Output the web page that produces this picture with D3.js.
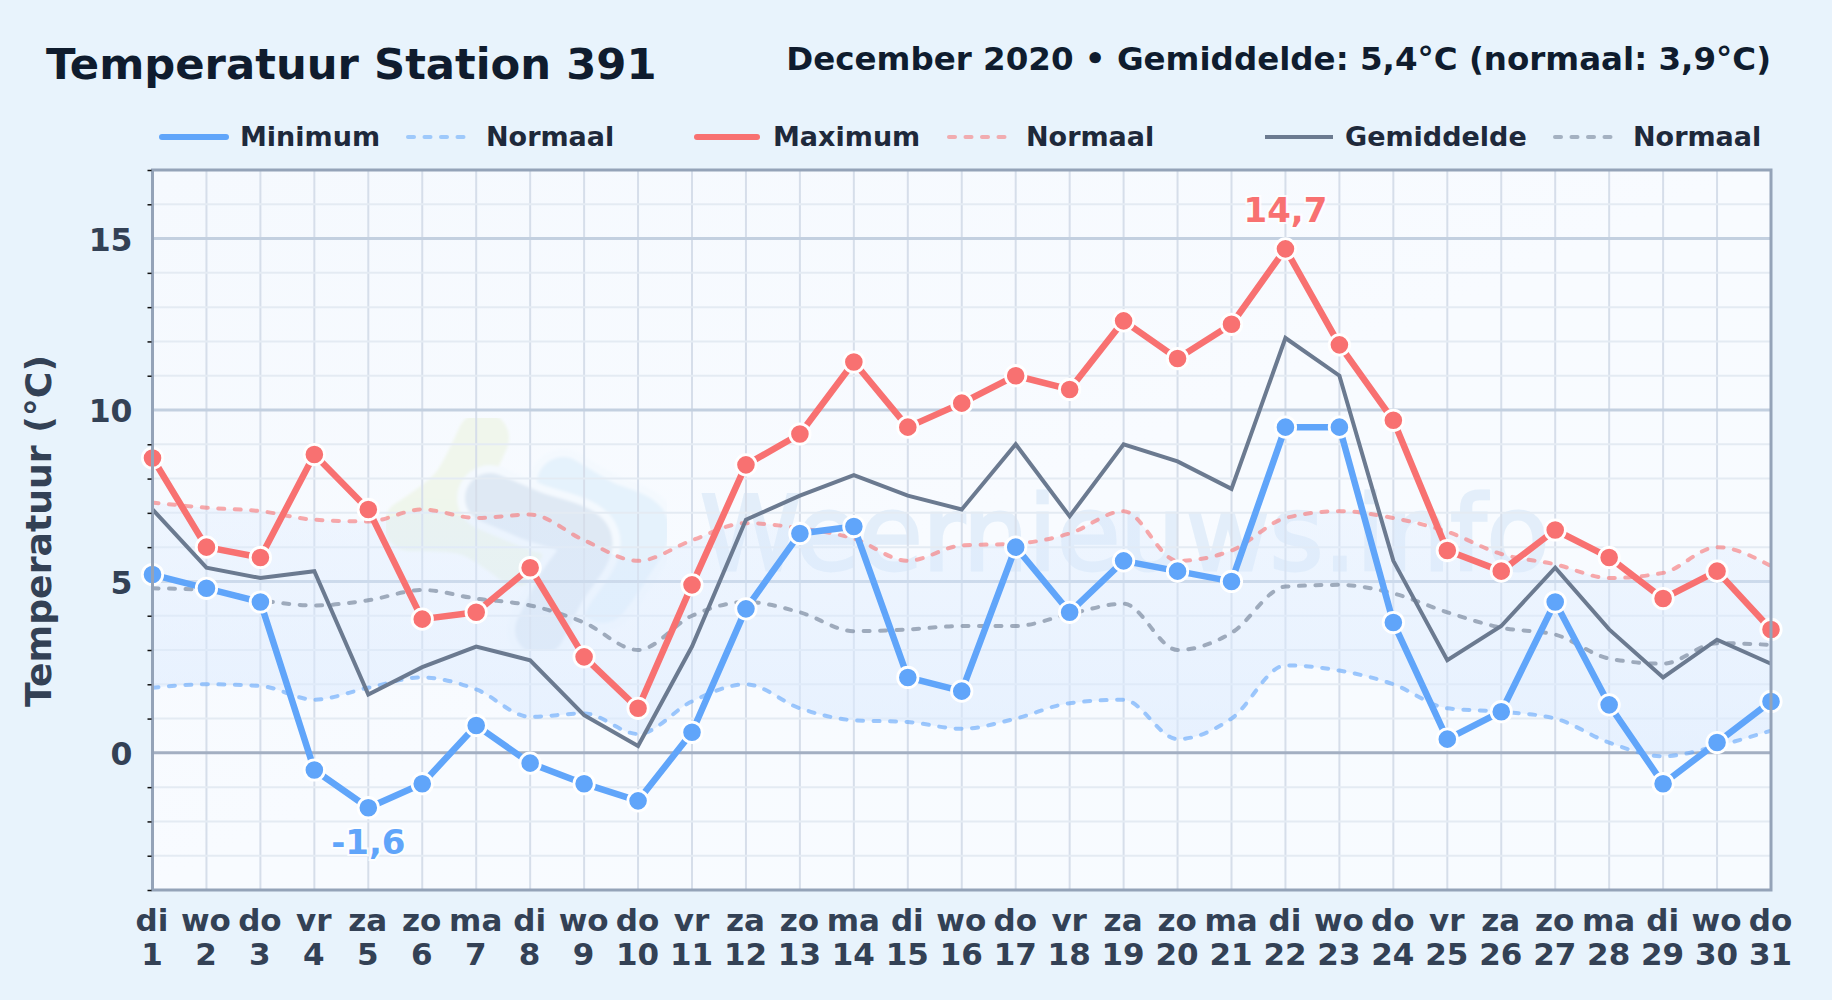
<!DOCTYPE html>
<html>
<head>
<meta charset="utf-8">
<title>Temperatuur Station 391</title>
<script src="https://cdn.jsdelivr.net/npm/d3@7"></script>
<style>
  html, body { margin: 0; padding: 0; background: #e8f3fc; }
  svg { display: block; font-family: "DejaVu Sans", sans-serif; font-weight: bold; }
</style>
</head>
<body>
<svg id="chart" width="1832" height="1000"></svg>
<script>
const weekdays = ["di","wo","do","vr","za","zo","ma","di","wo","do","vr","za","zo","ma","di","wo","do","vr","za","zo","ma","di","wo","do","vr","za","zo","ma","di","wo","do"];
const days = d3.range(1, 32);

const minTemp = [5.2,4.8,4.4,-0.5,-1.6,-0.9,0.8,-0.3,-0.9,-1.4,0.6,4.2,6.4,6.6,2.2,1.8,6.0,4.1,5.6,5.3,5.0,9.5,9.5,3.8,0.4,1.2,4.4,1.4,-0.9,0.3,1.5];
const maxTemp = [8.6,6.0,5.7,8.7,7.1,3.9,4.1,5.4,2.8,1.3,4.9,8.4,9.3,11.4,9.5,10.2,11.0,10.6,12.6,11.5,12.5,14.7,11.9,9.7,5.9,5.3,6.5,5.7,4.5,5.3,3.6];
const meanTemp = [7.1,5.4,5.1,5.3,1.7,2.5,3.1,2.7,1.1,0.2,3.1,6.8,7.5,8.1,7.5,7.1,9.0,6.9,9.0,8.5,7.7,12.1,11.0,5.6,2.7,3.7,5.4,3.6,2.2,3.3,2.6];
const normMin = [1.9,2.0,1.95,1.55,1.9,2.2,1.85,1.05,1.15,0.55,1.5,2.0,1.3,0.95,0.9,0.7,1.0,1.45,1.55,0.4,1.0,2.55,2.4,2.0,1.3,1.2,1.0,0.3,-0.1,0.2,0.65];
const normMax = [7.3,7.15,7.05,6.8,6.75,7.1,6.85,6.95,6.2,5.6,6.2,6.7,6.55,6.25,5.6,6.05,6.1,6.4,7.05,5.6,5.9,6.85,7.05,6.85,6.45,5.8,5.5,5.1,5.25,6.0,5.45];
const normMean = [4.8,4.75,4.45,4.3,4.45,4.75,4.5,4.3,3.8,3.0,4.0,4.4,4.1,3.55,3.6,3.7,3.7,4.05,4.35,3.0,3.5,4.85,4.9,4.65,4.1,3.65,3.45,2.75,2.6,3.2,3.15];

const legendItems = [
  { label: "Minimum", color: "#60a5fa", x1: 162, x2: 226, tx: 240, w: 6, normal: false },
  { label: "Normaal", color: "#60a5fa", x1: 408, x2: 464, tx: 486, w: 4, normal: true },
  { label: "Maximum", color: "#f87171", x1: 697, x2: 757, tx: 773, w: 6, normal: false },
  { label: "Normaal", color: "#f87171", x1: 949, x2: 1005, tx: 1026, w: 4, normal: true },
  { label: "Gemiddelde", color: "#6b7a90", x1: 1265, x2: 1333, tx: 1345, w: 4, normal: false },
  { label: "Normaal", color: "#6b7a90", x1: 1555, x2: 1618, tx: 1633, w: 4, normal: true }
];

const plotLeft = 152.5, plotRight = 1771, plotTop = 170, plotBottom = 890;
const x = d3.scaleLinear().domain([1, 31]).range([plotLeft, plotRight]);
const y = d3.scaleLinear().domain([-4, 17]).range([plotBottom, plotTop]);

const svg = d3.select("#chart");
const defs = svg.append("defs");

const plotGrad = defs.append("linearGradient").attr("id", "plot-bg").attr("x1", 0).attr("y1", 0).attr("x2", 1).attr("y2", 1);
plotGrad.append("stop").attr("offset", "0%").attr("stop-color", "#f5f9fe");
plotGrad.append("stop").attr("offset", "50%").attr("stop-color", "#f8fbff");
plotGrad.append("stop").attr("offset", "100%").attr("stop-color", "#f7fbff");

const bandGrad = defs.append("linearGradient").attr("id", "band-fill")
  .attr("gradientUnits", "userSpaceOnUse").attr("x1", 0).attr("x2", 0).attr("y1", y(7.3)).attr("y2", y(0));
bandGrad.append("stop").attr("offset", "0%").attr("stop-color", "#dbeafe").attr("stop-opacity", 0.3);
bandGrad.append("stop").attr("offset", "100%").attr("stop-color", "#dbeafe").attr("stop-opacity", 0.6);

defs.append("clipPath").attr("id", "plot-clip")
  .append("rect").attr("x", plotLeft).attr("y", plotTop).attr("width", plotRight - plotLeft).attr("height", plotBottom - plotTop);

defs.append("filter").attr("id", "soft").append("feGaussianBlur").attr("stdDeviation", 1.5);

svg.append("rect").attr("width", 1832).attr("height", 1000).attr("fill", "#e8f3fc");

svg.append("text").attr("x", 46).attr("y", 79).attr("font-size", 43.3).attr("fill", "#0f1c2e").text("Temperatuur Station 391");
svg.append("text").attr("x", 1771).attr("y", 70).attr("text-anchor", "end").attr("font-size", 32.5).attr("fill", "#0f1c2e")
  .text("December 2020 • Gemiddelde: 5,4°C (normaal: 3,9°C)");

// legend
const legend = svg.append("g");
legendItems.forEach((d) => {
  legend.append("line")
    .attr("x1", d.x1).attr("x2", d.x2).attr("y1", 137).attr("y2", 137)
    .attr("stroke", d.color).attr("stroke-width", d.w)
    .attr("stroke-opacity", d.normal ? 0.55 : 1)
    .attr("stroke-linecap", d.normal || d.w > 4 ? "round" : "butt")
    .attr("stroke-dasharray", d.normal ? "6 10.5" : null);
  legend.append("text").attr("x", d.tx).attr("y", 146).attr("font-size", 27).attr("fill", "#1e293b").text(d.label);
});

svg.append("rect").attr("x", plotLeft).attr("y", plotTop).attr("width", plotRight - plotLeft).attr("height", plotBottom - plotTop).attr("fill", "url(#plot-bg)");

// watermark
const plot = svg.append("g").attr("clip-path", "url(#plot-clip)");
const blob = d3.line().curve(d3.curveCatmullRom);
const wm = plot.append("g").attr("filter", "url(#soft)");
[
  { pts: [[483,438],[455,490],[410,525]], w: 52, c: "#f0f6ec" },
  { pts: [[410,525],[470,530],[517,560]], w: 52, c: "#eff6ec" },
  { pts: [[563,483],[600,505],[643,527],[625,565],[603,597]], w: 52, c: "#e5f2fc", halo: "#f4f9fe" },
  { pts: [[490,498],[530,515],[587,540],[560,590],[540,630]], w: 50, c: "#dfe9f4", halo: "#f4f9fe" }
].forEach((b) => {
  if (b.halo) {
    wm.append("path").attr("d", blob(b.pts)).attr("fill", "none").attr("stroke", b.halo)
      .attr("stroke-width", b.w + 16).attr("stroke-linecap", "round").attr("stroke-linejoin", "round");
  }
  wm.append("path").attr("d", blob(b.pts)).attr("fill", "none").attr("stroke", b.c)
    .attr("stroke-width", b.w).attr("stroke-linecap", "round").attr("stroke-linejoin", "round");
});
plot.append("text").attr("x", 700).attr("y", 570).attr("font-size", 103).attr("font-weight", "normal")
  .attr("fill", "#d3e5f6").attr("stroke", "#d3e5f6").attr("stroke-width", 3).attr("opacity", 0.55).text("Weernieuws.info");

// grid
const grid = plot.append("g");
days.forEach((d) => {
  grid.append("line").attr("x1", x(d)).attr("x2", x(d)).attr("y1", plotTop).attr("y2", plotBottom)
    .attr("stroke", "#d6deea").attr("stroke-width", 2);
});
d3.range(-4, 18).forEach((v) => {
  const isMajor = v % 5 === 0;
  grid.append("line").attr("x1", plotLeft).attr("x2", plotRight).attr("y1", y(v)).attr("y2", y(v))
    .attr("stroke", v === 0 ? "#a3afc2" : isMajor ? "#c3d0e0" : "#e4ebf3")
    .attr("stroke-width", isMajor ? 3 : 2);
});

// normal band
const band = d3.area().x((d, i) => x(days[i])).y0((d, i) => y(normMin[i])).y1((d) => y(d)).curve(d3.curveMonotoneX);
plot.append("path").attr("d", band(normMax)).attr("fill", "url(#band-fill)");

const smooth = d3.line().x((d, i) => x(days[i])).y((d) => y(d)).curve(d3.curveMonotoneX);
const straight = d3.line().x((d, i) => x(days[i])).y((d) => y(d));

[[normMin, "#60a5fa"], [normMax, "#f87171"], [normMean, "#6b7a90"]].forEach(([vals, c]) => {
  plot.append("path").attr("d", smooth(vals)).attr("fill", "none").attr("stroke", c)
    .attr("stroke-width", 4).attr("stroke-opacity", 0.6).attr("stroke-linecap", "round").attr("stroke-dasharray", "6 10.5");
});

svg.append("path").attr("d", straight(meanTemp)).attr("fill", "none").attr("stroke", "#6b7a90").attr("stroke-width", 4);

[[maxTemp, "#f87171"], [minTemp, "#60a5fa"]].forEach(([vals, c]) => {
  svg.append("path").attr("d", straight(vals)).attr("fill", "none").attr("stroke", c).attr("stroke-width", 6.5).attr("stroke-linejoin", "round");
  svg.append("g").selectAll("circle").data(vals).join("circle")
    .attr("cx", (d, i) => x(days[i])).attr("cy", (d) => y(d)).attr("r", 10.2)
    .attr("fill", c).attr("stroke", "#fff").attr("stroke-width", 2.8);
});

// frame
svg.append("rect").attr("x", plotLeft).attr("y", plotTop).attr("width", plotRight - plotLeft).attr("height", plotBottom - plotTop)
  .attr("fill", "none").attr("stroke", "#94a3b8").attr("stroke-width", 3);

// axes
const yAxis = d3.axisLeft(y).tickValues([0, 5, 10, 15]).tickSize(0).tickPadding(20);
const yG = svg.append("g").attr("transform", `translate(${plotLeft},1.5)`).call(yAxis);
yG.select(".domain").remove();
yG.selectAll("text").attr("font-size", 31.5).attr("font-family", "DejaVu Sans").attr("font-weight", "bold").attr("fill", "#334155");

const yMinor = d3.axisLeft(y).tickValues(d3.range(-4, 18).filter((v) => v % 5 !== 0)).tickSize(4).tickFormat("");
const yMinorG = svg.append("g").attr("transform", `translate(${plotLeft - 1},0)`).call(yMinor);
yMinorG.select(".domain").remove();
yMinorG.selectAll("line").attr("stroke", "#111").attr("stroke-width", 1.5);

const xAxis = d3.axisBottom(x).tickValues(days).tickSize(0).tickFormat("");
const xG = svg.append("g").attr("transform", `translate(-1,${plotBottom})`).call(xAxis);
xG.select(".domain").remove();
xG.selectAll(".tick").each(function (d, i) {
  const t = d3.select(this).select("text").attr("y", 0).attr("dy", null)
    .attr("font-size", 31).attr("font-family", "DejaVu Sans").attr("font-weight", "bold").attr("fill", "#334155");
  t.append("tspan").attr("x", 0).attr("y", 40.5).text(weekdays[i]);
  t.append("tspan").attr("x", 0).attr("y", 75).text(d);
});

svg.append("text").attr("transform", "translate(51,531) rotate(-90)").attr("text-anchor", "middle")
  .attr("font-size", 36.2).attr("fill", "#334155").text("Temperatuur (°C)");

// extremes
function note(value, day, color, dy) {
  svg.append("text").attr("x", x(day)).attr("y", y(value) + dy).attr("text-anchor", "middle")
    .attr("font-size", 34).attr("fill", color).attr("stroke", "#fff").attr("stroke-width", 4)
    .attr("stroke-opacity", 0.8).attr("paint-order", "stroke").text(String(value).replace(".", ","));
}
const maxIdx = d3.maxIndex(maxTemp), minIdx = d3.minIndex(minTemp);
note(maxTemp[maxIdx], days[maxIdx], "#f87171", -27);
note(minTemp[minIdx], days[minIdx], "#60a5fa", 46);
</script>
</body>
</html>
